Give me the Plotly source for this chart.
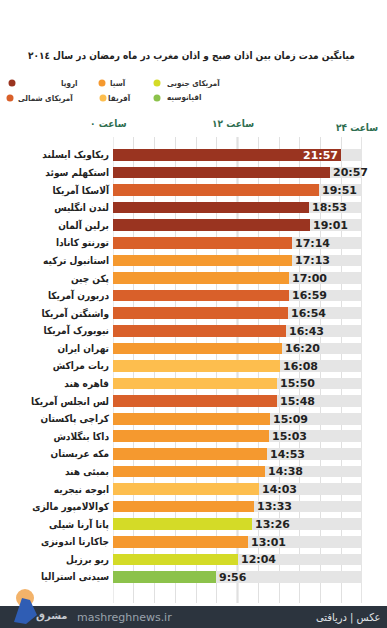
import plotly.graph_objects as go

# ---------------- data ----------------
cities = [
    "ریکاویک ایسلند", "استکهلم سوئد", "آلاسکا آمریکا", "لندن انگلیس", "برلین آلمان",
    "تورنتو کانادا", "استانبول ترکیه", "پکن چین", "دربورن آمریکا", "واشنگتن آمریکا",
    "نیویورک آمریکا", "تهران ایران", "ربات مراکش", "قاهره هند", "لس انجلس آمریکا",
    "کراچی پاکستان", "داکا بنگلادش", "مکه عربستان", "بمبئی هند", "ابوجه نیجریه",
    "کوالالامپور مالزی", "پاتا آرنا شیلی", "جاکارتا اندونزی", "ریو برزیل", "سیدنی استرالیا",
]
durations = [
    "21:57", "20:57", "19:51", "18:53", "19:01",
    "17:14", "17:13", "17:00", "16:59", "16:54",
    "16:43", "16:20", "16:08", "15:50", "15:48",
    "15:09", "15:03", "14:53", "14:38", "14:03",
    "13:33", "13:26", "13:01", "12:04", "9:56",
]
regions = [
    "europe", "europe", "namerica", "europe", "europe",
    "namerica", "asia", "asia", "namerica", "namerica",
    "namerica", "asia", "africa", "africa", "namerica",
    "asia", "asia", "asia", "asia", "africa",
    "asia", "samerica", "asia", "samerica", "oceania",
]
region_labels = {
    "europe": "اروپا", "asia": "آسیا", "samerica": "آمریکای جنوبی",
    "namerica": "آمریکای شمالی", "africa": "آفریقا", "oceania": "اقیانوسیه",
}
axis_labels = ["ساعت ۰", "ساعت ۱۲", "ساعت ۲۴"]
axis_values = [0, 12, 24]
title_text = "میانگین مدت زمان بین اذان صبح و اذان مغرب در ماه رمضان در سال ۲۰۱٤"

# ---------------- styles ----------------
colors = {
    "europe": "#9a3420", "namerica": "#d9602a", "asia": "#f5992f",
    "africa": "#fdbe4e", "samerica": "#d4db27", "oceania": "#8cc24b",
}
FONT = "DejaVu Sans"
CFONT = "DejaVu Sans Condensed, DejaVu Sans"
W, H = 387, 628
L, R, T, B = 113, 25, 137, 25
PW, PH = W - L - R, H - T - B


def px(x):
    return (x - L) / PW


def py(y):
    return (H - B - y) / PH


hours = [int(d.split(":")[0]) + int(d.split(":")[1]) / 60 for d in durations]
n = len(cities)
ypos = list(range(n))

fig = go.Figure()
fig.add_trace(go.Bar(
    x=[24] * n, y=ypos, orientation="h", width=0.66,
    marker=dict(color="#e5e5e5", line=dict(width=0)),
    hoverinfo="skip", showlegend=False,
))
textpos = ["inside" if h > 21 else "outside" for h in hours]
fig.add_trace(go.Bar(
    x=hours, y=ypos, orientation="h", width=0.66,
    marker=dict(color=[colors[r] for r in regions], line=dict(width=0)),
    text=durations, textposition=textpos, insidetextanchor="end",
    constraintext="none",
    insidetextfont=dict(family=FONT, size=11, color="white", weight="bold"),
    outsidetextfont=dict(family=FONT, size=11, color="#222222", weight="bold"),
    cliponaxis=False, showlegend=False,
))

shapes = []
for xv, col, wd in [(0, "#d8d8d8", 1), (12, "#b5b5b5", 1.5), (24, "#c8c8c8", 1)]:
    shapes.append(dict(type="line", xref="x", yref="paper", x0=xv, x1=xv, y0=0, y1=1,
                       line=dict(color=col, width=wd), layer="below"))
shapes.append(dict(type="rect", xref="paper", yref="paper", x0=px(0), x1=px(W),
                   y0=py(H), y1=py(606), fillcolor="#2c343e", line=dict(width=0), layer="above"))
shapes.append(dict(type="circle", xref="paper", yref="paper", x0=px(16), x1=px(34),
                   y0=py(607), y1=py(589), fillcolor="#f3b36a", line=dict(width=0), layer="above"))
shapes.append(dict(type="path", xref="paper", yref="paper",
                   path=f"M {px(14)},{py(622)} L {px(22)},{py(598)} L {px(30)},{py(600)} L {px(37)},{py(615)} L {px(26)},{py(624)} Z",
                   fillcolor="#2f5db4", line=dict(width=0), layer="above"))

annotations = []
annotations.append(dict(text=f"<b>{title_text}</b>", xref="paper", yref="paper",
                        x=px(191), y=py(55), showarrow=False, xanchor="center", yanchor="middle",
                        font=dict(family=CFONT, size=10, color="#222222")))

# legend: (region, dot x, text x, anchor, y)
legend_items = [
    ("europe", 12, 80, "right", 83), ("asia", 102, 128, "right", 83), ("samerica", 157, 165, "left", 83),
    ("namerica", 10, 75, "right", 98), ("africa", 103, 133, "right", 98), ("oceania", 157, 165, "left", 98),
]
for reg, dx, tx, anc, yy in legend_items:
    shapes.append(dict(type="circle", xref="paper", yref="paper",
                       x0=px(dx - 3.5), x1=px(dx + 3.5), y0=py(yy + 3.5), y1=py(yy - 3.5),
                       fillcolor=colors[reg], line=dict(width=0)))
    annotations.append(dict(text=f"<b>{region_labels[reg]}</b>", xref="paper", yref="paper",
                            x=px(tx), y=py(yy), showarrow=False, xanchor=anc, yanchor="middle",
                            font=dict(family=CFONT, size=8, color="#333333")))

axis_y = [123, 123, 127]
for lab, xv, yy in zip(axis_labels, axis_values, axis_y):
    xx = {0: 108, 12: 233, 24: 357}[xv]
    annotations.append(dict(text=f"<b>{lab}</b>", xref="paper", yref="paper",
                            x=px(xx), y=py(yy), showarrow=False, xanchor="center", yanchor="middle",
                            font=dict(family=CFONT, size=10, color="#2f6e50")))

annotations.append(dict(text="mashreghnews.ir", xref="paper", yref="paper", x=px(75), y=py(617),
                        showarrow=False, xanchor="left", yanchor="middle",
                        font=dict(family="DejaVu Sans", size=11, color="#9aa3ad")))
annotations.append(dict(text="<b>مشرق</b>", xref="paper", yref="paper", x=px(70), y=py(616),
                        showarrow=False, xanchor="right", yanchor="middle",
                        font=dict(family=FONT, size=10, color="#c8ccd2")))
annotations.append(dict(text="عکس | دریافتی", xref="paper", yref="paper", x=px(383), y=py(617),
                        showarrow=False, xanchor="right", yanchor="middle",
                        font=dict(family=CFONT, size=11, color="#e0e3e6")))

fig.update_layout(
    width=W, height=H, margin=dict(l=L, r=R, t=T, b=B, autoexpand=False),
    paper_bgcolor="white", plot_bgcolor="white",
    barmode="overlay", bargap=0, showlegend=False,
    xaxis=dict(range=[0, 24], dtick=2, showgrid=True, gridcolor="#e0e0e0", gridwidth=1,
               zeroline=False, showticklabels=False, ticks="", fixedrange=True),
    yaxis=dict(range=[n + 0.48, -1.02], tickvals=ypos, ticktext=[f"<b>{c}</b>" for c in cities],
               tickfont=dict(family=CFONT, size=10, color="#222222"), ticks="",
               showgrid=False, zeroline=False, ticklabelstandoff=3, fixedrange=True),
    shapes=shapes, annotations=annotations,
)

fig.write_html("out.html", config={"displayModeBar": False},
               post_script="document.body.style.margin='0';")
